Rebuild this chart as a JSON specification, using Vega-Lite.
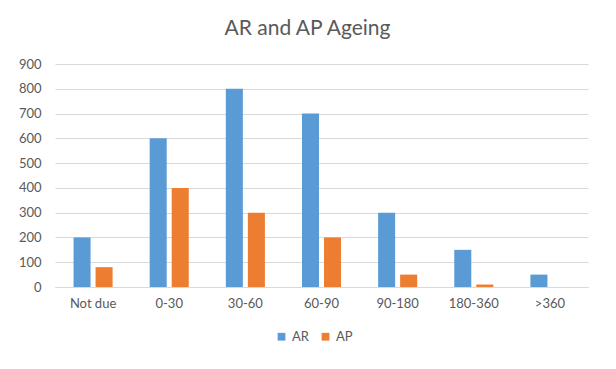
{
  "$schema": "https://vega.github.io/schema/vega-lite/v6.json",
  "width": 533,
  "height": 223,
  "autosize": {"type": "none"},
  "padding": {"left": 55, "top": 64, "right": 28, "bottom": 82},
  "background": "white",
  "title": {
    "text": "AR and AP Ageing",
    "font": "Lato",
    "fontSize": 21,
    "fontWeight": "normal",
    "color": "#595959",
    "anchor": "middle",
    "dx": -14,
    "offset": 19
  },
  "data": {
    "values": [
      {"bucket": "Not due", "series": "AR", "amount": 200},
      {"bucket": "Not due", "series": "AP", "amount": 80},
      {"bucket": "0-30", "series": "AR", "amount": 600},
      {"bucket": "0-30", "series": "AP", "amount": 400},
      {"bucket": "30-60", "series": "AR", "amount": 800},
      {"bucket": "30-60", "series": "AP", "amount": 300},
      {"bucket": "60-90", "series": "AR", "amount": 700},
      {"bucket": "60-90", "series": "AP", "amount": 200},
      {"bucket": "90-180", "series": "AR", "amount": 300},
      {"bucket": "90-180", "series": "AP", "amount": 50},
      {"bucket": "180-360", "series": "AR", "amount": 150},
      {"bucket": "180-360", "series": "AP", "amount": 10},
      {"bucket": ">360", "series": "AR", "amount": 50},
      {"bucket": ">360", "series": "AP", "amount": 0}
    ]
  },
  "mark": {"type": "bar"},
  "encoding": {
    "x": {
      "field": "bucket",
      "type": "nominal",
      "sort": ["Not due", "0-30", "30-60", "60-90", "90-180", "180-360", ">360"],
      "scale": {"paddingInner": 0.487, "paddingOuter": 0.2435},
      "axis": {
        "title": null,
        "labelAngle": 0,
        "labelFont": "Lato",
        "labelFontSize": 13,
        "labelColor": "#595959",
        "labelPadding": 10,
        "ticks": false,
        "domainColor": "#D9D9D9",
        "grid": false
      }
    },
    "xOffset": {
      "field": "series",
      "type": "nominal",
      "sort": ["AR", "AP"],
      "scale": {"paddingInner": 0.227, "paddingOuter": 0}
    },
    "y": {
      "field": "amount",
      "type": "quantitative",
      "scale": {"domain": [0, 900], "nice": false},
      "axis": {
        "title": null,
        "values": [0, 100, 200, 300, 400, 500, 600, 700, 800, 900],
        "labelFont": "Lato",
        "labelFontSize": 13,
        "labelColor": "#595959",
        "labelPadding": 14,
        "ticks": false,
        "domain": false,
        "gridColor": "#D9D9D9"
      }
    },
    "color": {
      "field": "series",
      "type": "nominal",
      "sort": ["AR", "AP"],
      "scale": {"domain": ["AR", "AP"], "range": ["#5B9BD5", "#ED7D31"]},
      "legend": {
        "title": null,
        "orient": "none",
        "direction": "horizontal",
        "legendX": 220,
        "legendY": 266,
        "symbolType": "square",
        "symbolSize": 60,
        "symbolStrokeWidth": 0,
        "labelFont": "Lato",
        "labelFontSize": 13,
        "labelColor": "#595959",
        "labelOffset": 4,
        "columnPadding": 10
      }
    }
  },
  "config": {
    "view": {"stroke": null},
    "bar": {"opacity": 1}
  }
}
